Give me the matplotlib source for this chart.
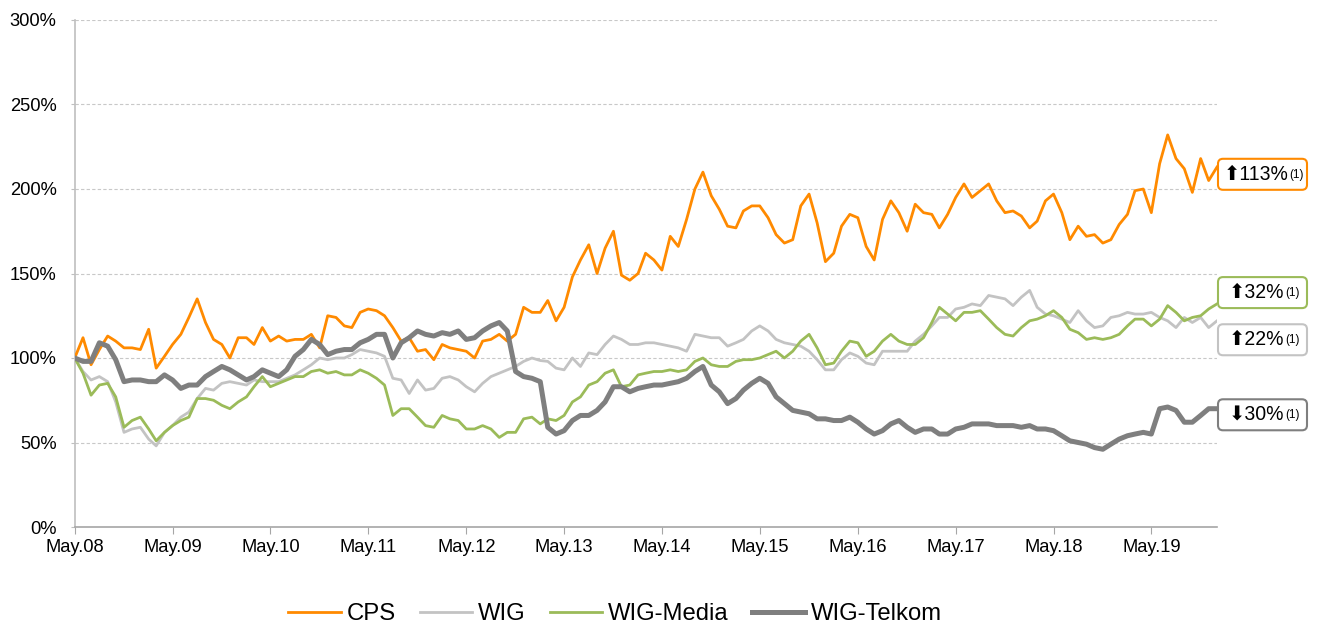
import numpy as np
import pandas as pd
import matplotlib
matplotlib.use('Agg')
import matplotlib.pyplot as plt
import matplotlib.dates as mdates
from matplotlib import font_manager
from matplotlib.patches import FancyBboxPatch
from matplotlib.text import Annotation
from matplotlib.transforms import IdentityTransform

# monthly readings, May 2008 = 100%
months = pd.date_range('2008-05-01', periods=141, freq='MS')

cps = [100, 112, 96, 105, 113, 110, 106, 106, 105, 117, 94, 101,
       108, 114, 124, 135, 121, 111, 108, 100, 112, 112, 108, 118,
       110, 113, 110, 111, 111, 114, 106, 125, 124, 119, 118, 127,
       129, 128, 125, 118, 110, 112, 104, 105, 99, 108, 106, 105,
       104, 100, 110, 111, 114, 110, 114, 130, 127, 127, 134, 122,
       130, 148, 158, 167, 150, 165, 175, 149, 146, 150, 162, 158,
       152, 172, 166, 182, 200, 210, 196, 188, 178, 177, 187, 190,
       190, 183, 173, 168, 170, 190, 197, 180, 157, 162, 178, 185,
       183, 166, 158, 182, 193, 186, 175, 191, 186, 185, 177, 185,
       195, 203, 195, 199, 203, 193, 186, 187, 184, 177, 181, 193,
       197, 186, 170, 178, 172, 173, 168, 170, 179, 185, 199, 200,
       186, 215, 232, 218, 212, 198, 218, 205, 213]

wig = [100, 92, 87, 89, 86, 74, 56, 58, 59, 52, 48, 56,
       60, 65, 68, 76, 82, 81, 85, 86, 85, 84, 87, 86,
       86, 86, 88, 90, 93, 96, 100, 99, 100, 100, 102, 105,
       104, 103, 101, 88, 87, 79, 87, 81, 82, 88, 89, 87,
       83, 80, 85, 89, 91, 93, 95, 98, 100, 98.5, 98, 94,
       93, 100, 95, 103, 102, 108, 113, 111, 108, 108, 109, 109,
       108, 107, 106, 104, 114, 113, 112, 112, 107, 109, 111, 116,
       119, 116, 111, 109, 108, 107, 104, 99, 93, 93, 99, 103,
       101, 97, 96, 104, 104, 104, 104, 110, 114, 119, 124, 124,
       129, 130, 132, 131, 137, 136, 135, 131, 136, 140, 130, 126,
       125, 123, 121, 128, 122, 118, 119, 124, 125, 127, 126, 126,
       127, 124, 122, 118, 124, 121, 124, 118, 122]

wig_media = [100, 91, 78, 84, 85, 77, 59, 63, 65, 58, 51, 56,
             60, 63, 65, 76, 76, 75, 72, 70, 74, 77, 83, 89,
             83, 85, 87, 89, 89, 92, 93, 91, 92, 90, 90, 93,
             91, 88, 84, 66, 70, 70, 65, 60, 59, 66, 64, 63,
             58, 58, 60, 58, 53, 56, 56, 64, 65, 61, 64, 63,
             66, 74, 77, 84, 86, 91, 93, 83, 84, 90, 91, 92,
             92, 93, 92, 93, 98, 100, 96, 95, 95, 98, 99, 99,
             100, 102, 104, 100, 104, 110, 114, 106, 96, 97, 104, 110,
             109, 101, 104, 110, 114, 110, 108, 108, 112, 121, 130, 126,
             122, 127, 127, 128, 123, 118, 114, 113, 118, 122, 123, 125,
             128, 124, 117, 115, 111, 112, 111, 112, 114, 119, 123, 123,
             119, 123, 131, 127, 122, 124, 125, 129, 132]

wig_telkom = [100, 98, 98, 109, 107, 99, 86, 87, 87, 86, 86, 90,
              87, 82, 84, 84, 89, 92, 95, 93, 90, 87, 89, 93,
              91, 89, 93, 101, 105, 111, 108, 102, 104, 105, 105, 109,
              111, 114, 114, 100, 109, 112, 116, 114, 113, 115, 114, 116,
              111, 112, 116, 119, 121, 116, 92, 89, 88, 86, 59, 55,
              57, 63, 66, 66, 69, 74, 83, 83, 80, 82, 83, 84,
              84, 85, 86, 88, 92, 95, 84, 80, 73, 76, 81, 85,
              88, 85, 77, 73, 69, 68, 67, 64, 64, 63, 63, 65,
              62, 58, 55, 57, 61, 63, 59, 56, 58, 58, 55, 55,
              58, 59, 61, 61, 61, 60, 60, 60, 59, 60, 58, 58,
              57, 54, 51, 50, 49, 47, 46, 49, 52, 54, 55, 56,
              55, 70, 71, 69, 62, 62, 66, 70, 70]

names = ['CPS', 'WIG', 'WIG-Media', 'WIG-Telkom']
colors = {'CPS': '#FF8A00', 'WIG': '#C3C3C3', 'WIG-Media': '#9BBB59', 'WIG-Telkom': '#7F7F7F'}
widths = {'CPS': 2.0, 'WIG': 2.0, 'WIG-Media': 2.0, 'WIG-Telkom': 3.6}

# end-of-period change boxes (label, arrow, box level in %)
box_names = ['CPS', 'WIG-Media', 'WIG', 'WIG-Telkom']
box_text = ['113%', '32%', '22%', '30%']
box_arrow = ['\u2B06', '\u2B06', '\u2B06', '\u2B07']
box_level = [208.7, 138.7, 110.8, 66.4]

avail = {f.name for f in font_manager.fontManager.ttflist}
if 'Liberation Sans Narrow' in avail:
    base, k = 'Liberation Sans Narrow', 1.0
else:
    base, k = 'Liberation Sans', 0.88
plt.rcParams['font.family'] = [base, 'DejaVu Sans']

fig = plt.figure(figsize=(13.2, 6.28), dpi=100)
W, H = 1320, 628
ax = fig.add_axes([74.7 / W, 1 - 527 / H, (1217 - 74.7) / W, (527 - 20) / H])

data = {'CPS': cps, 'WIG': wig, 'WIG-Media': wig_media, 'WIG-Telkom': wig_telkom}
handles = []
for n in ['WIG', 'WIG-Media', 'CPS', 'WIG-Telkom']:
    ln, = ax.plot(months, data[n], color=colors[n], lw=widths[n], label=n,
                  solid_joinstyle='round', zorder=3)
    handles.append(ln)
handles = sorted(handles, key=lambda h: names.index(h.get_label()))

ax.set_xlim(months[0], months[-1])
ax.set_ylim(0, 300)
ax.set_yticks(np.arange(0, 301, 50))
ax.yaxis.set_major_formatter(plt.FuncFormatter(lambda v, p: f'{v:.0f}%'))
ax.set_xticks(months[::12])
ax.xaxis.set_major_formatter(mdates.DateFormatter('%b.%y'))

ax.grid(axis='y', color='#C8C8C8', lw=0.8, ls=(0, (3, 2)))
ax.set_axisbelow(True)
for s in ['top', 'right']:
    ax.spines[s].set_visible(False)
ax.spines['left'].set_color('#BFBFBF')
ax.spines['bottom'].set_color('#A6A6A6')
ax.spines['left'].set_linewidth(1.2)
ax.spines['bottom'].set_linewidth(1.2)
ax.tick_params(axis='y', length=3, color='#BFBFBF', pad=10, labelsize=15 * k)
ax.tick_params(axis='x', length=5, color='#A6A6A6', pad=4, labelsize=15 * k)

fig.legend(handles, names, loc='center', bbox_to_anchor=(0.466, 0.022), ncol=4,
           frameon=False, fontsize=19.5 * k, handlelength=2.2, handletextpad=0.25,
           columnspacing=1.0)

# boxes to the right of the plot, in pixels
x0 = 1218
for n, t, a, lv in zip(box_names, box_text, box_arrow, box_level):
    cy = ax.transData.transform((0, lv))[1]
    box = FancyBboxPatch((x0, cy - 15.5), 89, 31,
                         boxstyle='round,pad=0,rounding_size=5',
                         transform=IdentityTransform(), fc='white',
                         ec=colors[n], lw=1.5, clip_on=False, zorder=4)
    fig.add_artist(box)
    main = fig.text(x0 + 44.5 - 6, cy, a + t, transform=IdentityTransform(),
                    ha='center', va='center', fontsize=16 * k, color='black',
                    zorder=5)
    sup = Annotation('(1)', xy=(1, 1), xycoords=main, xytext=(0.5, -3),
                     textcoords='offset points', ha='left', va='top',
                     fontsize=9.5 * k, color='black', zorder=6)
    fig.add_artist(sup)

fig.savefig('out.png', dpi=100)
